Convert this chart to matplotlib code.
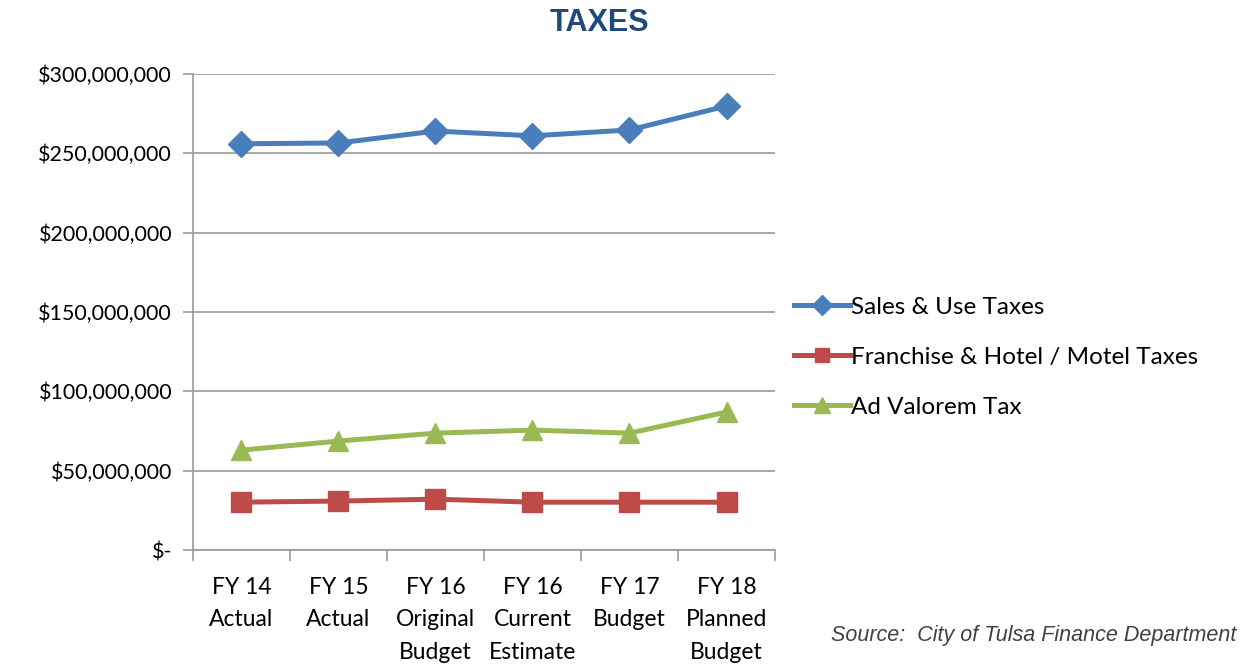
import matplotlib
matplotlib.use("Agg")
import matplotlib.pyplot as plt
from matplotlib.ticker import FuncFormatter, FixedLocator

# data (dollars)
categories = ["FY 14\nActual", "FY 15\nActual", "FY 16\nOriginal\nBudget",
              "FY 16\nCurrent\nEstimate", "FY 17\nBudget", "FY 18\nPlanned\nBudget"]
sales_use = [256_000_000, 256_500_000, 264_000_000, 261_000_000, 264_700_000, 279_800_000]
franchise = [30_200_000, 30_900_000, 32_100_000, 30_200_000, 30_200_000, 30_200_000]
ad_valorem = [63_000_000, 68_700_000, 73_700_000, 75_600_000, 73_700_000, 87_000_000]
y_ticks = [0, 50_000_000, 100_000_000, 150_000_000, 200_000_000, 250_000_000, 300_000_000]

plt.rcParams["font.family"] = ["Lato", "DejaVu Sans"]

fig = plt.figure(figsize=(12.49, 6.66), dpi=100)
ax = fig.add_axes([0.1545, 0.174, 0.466, 0.715])

x = list(range(len(categories)))
ax.plot(x, sales_use, color="#4A7EBB", lw=3.6, marker="D", ms=13,
        label="Sales & Use Taxes")
ax.plot(x, franchise, color="#BE4B48", lw=3.6, marker="s", ms=14,
        label="Franchise & Hotel / Motel Taxes")
ax.plot(x, ad_valorem, color="#98B954", lw=3.6, marker="^", ms=15,
        label="Ad Valorem Tax")

ax.set_xlim(-0.5, len(categories) - 0.5)
ax.set_ylim(0, 300_000_000)
ax.set_yticks(y_ticks)
ax.yaxis.set_major_formatter(FuncFormatter(
    lambda v, p: "$-" if v == 0 else f"${v:,.0f}"))
ax.grid(axis="y", color="#9a9a9a", lw=1.2)
ax.set_axisbelow(True)

ax.set_xticks(x)
ax.set_xticklabels(categories, fontsize=16.5, linespacing=1.68, va="top")
ax.xaxis.set_minor_locator(FixedLocator([i - 0.5 for i in range(len(categories) + 1)]))
ax.tick_params(axis="x", which="major", length=0, pad=19)
ax.tick_params(axis="x", which="minor", length=8, color="#9a9a9a", width=1.2)
ax.tick_params(axis="y", length=7, color="#9a9a9a", width=1.2, labelsize=15.5, pad=8)

for s in ["top", "right"]:
    ax.spines[s].set_visible(False)
for s in ["left", "bottom"]:
    ax.spines[s].set_color("#9a9a9a")
    ax.spines[s].set_linewidth(1.2)

fig.text(0.48, 0.965, "TAXES", ha="center", va="center", fontsize=22,
         fontweight="bold", color="#1F497D",
         family=["Liberation Sans Narrow", "Liberation Sans"])

ax.legend(loc="center left", bbox_to_anchor=(0.995, 0.405), frameon=False,
          fontsize=17.5, handlelength=2.3, handletextpad=0.05, labelspacing=1.2,
          markerscale=0.75)

fig.text(0.99, 0.046, "Source:  City of Tulsa Finance Department", ha="right",
         va="center", fontsize=15.5, style="italic", color="#404040",
         family=["Liberation Sans", "DejaVu Sans"])

fig.savefig("out.png", dpi=100)
